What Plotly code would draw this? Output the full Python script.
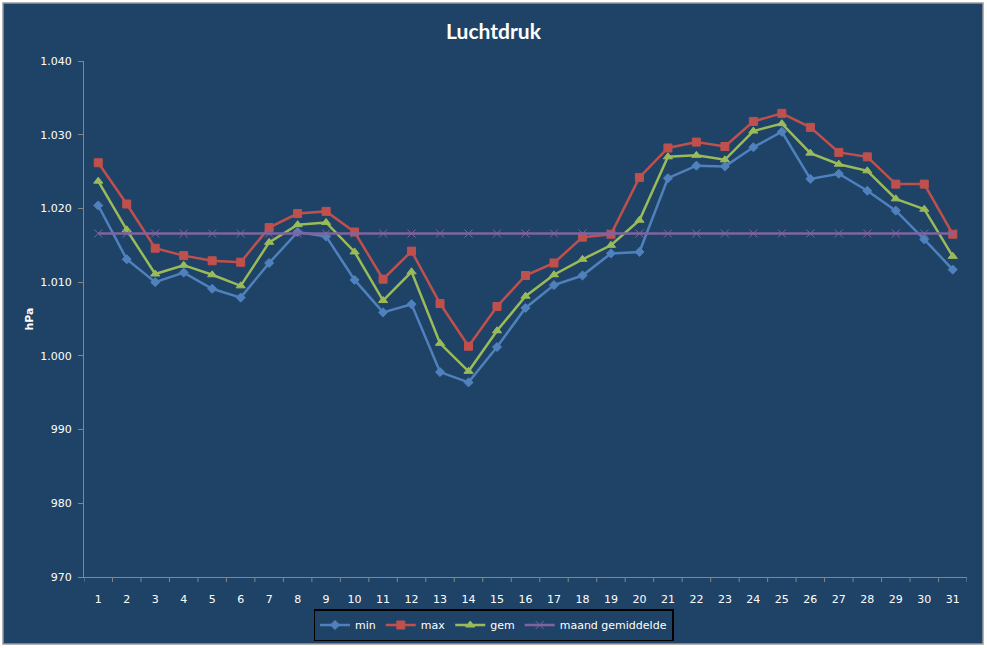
import plotly.graph_objects as go

days = list(range(1, 32))
day_labels = [str(d) for d in days]

min_vals = [1020.4, 1013.1, 1010.0, 1011.3, 1009.1, 1007.9, 1012.6, 1016.8, 1016.2, 1010.3,
            1005.9, 1007.0, 997.8, 996.4, 1001.2, 1006.5, 1009.6, 1010.9, 1013.9, 1014.1,
            1024.1, 1025.8, 1025.7, 1028.3, 1030.4, 1024.0, 1024.7, 1022.4, 1019.7, 1015.8, 1011.7]
max_vals = [1026.2, 1020.6, 1014.6, 1013.6, 1012.9, 1012.7, 1017.4, 1019.3, 1019.6, 1016.8,
            1010.4, 1014.2, 1007.1, 1001.3, 1006.7, 1010.9, 1012.6, 1016.1, 1016.5, 1024.2,
            1028.2, 1029.0, 1028.4, 1031.8, 1032.9, 1031.0, 1027.6, 1027.0, 1023.3, 1023.3, 1016.5]
gem_vals = [1023.7, 1017.1, 1011.1, 1012.3, 1011.0, 1009.5, 1015.4, 1017.8, 1018.1, 1014.1,
            1007.5, 1011.4, 1001.7, 997.9, 1003.4, 1008.1, 1011.0, 1013.1, 1015.0, 1018.4,
            1027.0, 1027.2, 1026.6, 1030.5, 1031.5, 1027.5, 1026.0, 1025.1, 1021.3, 1019.9, 1013.5]
maand_gem = [1016.6] * 31

y_tickvals = [970, 980, 990, 1000, 1010, 1020, 1030, 1040]
y_ticktext = ["970", "980", "990", "1.000", "1.010", "1.020", "1.030", "1.040"]

BG = "#1F4366"
AXIS = "#868686"
TXT = "#FFFFFF"

fig = go.Figure()
series = [
    ("min", min_vals, "#4F81BD", "diamond", 7),
    ("max", max_vals, "#C0504D", "square", 8),
    ("gem", gem_vals, "#9BBB59", "triangle-up", 8),
    ("maand gemiddelde", maand_gem, "#8064A2", "x-thin", 8),
]
for name, vals, col, sym, sz in series:
    fig.add_trace(go.Scatter(
        x=days, y=vals, name=name, mode="lines+markers",
        line=dict(color=col, width=2.5),
        marker=dict(symbol=sym, size=sz, color=col, line=dict(color=col, width=1)),
    ))

W, H = 987, 648
L, R, T, B = 84, 20, 61, 71
pw, ph = W - L - R, H - T - B

fig.update_layout(
    width=W, height=H,
    margin=dict(l=L, r=R, t=T, b=B, autoexpand=False),
    paper_bgcolor="white",
    plot_bgcolor=BG,
    font=dict(family="DejaVu Sans", size=11, color=TXT),
    title=dict(text="<b>Luchtdruk</b>", x=0.5, xref="container", xanchor="center",
               y=1 - 32 / H, yanchor="middle",
               font=dict(family="Lato", size=21, color=TXT)),
    showlegend=True,
    legend=dict(orientation="h", x=0.5, xanchor="center", xref="container",
                y=1 - 609 / H, yanchor="top", yref="container",
                bordercolor="black", borderwidth=1.5, bgcolor=BG,
                font=dict(family="DejaVu Sans", size=11, color=TXT),
                itemwidth=30, tracegroupgap=0),
    xaxis=dict(range=[0.5, 31.5], tickvals=days, ticktext=day_labels,
               showgrid=False, zeroline=False, showline=True, linecolor=AXIS, linewidth=1,
               ticks="", ticklabelstandoff=12, tickfont=dict(size=11, color=TXT), fixedrange=True),
    yaxis=dict(range=[970, 1040], tickvals=y_tickvals, ticktext=y_ticktext,
               showgrid=False, zeroline=False, showline=True, linecolor=AXIS, linewidth=1,
               ticks="outside", ticklen=5, tickcolor=AXIS, ticklabelstandoff=4,
               tickfont=dict(size=11, color=TXT),
               title=dict(text="<b>hPa</b>", standoff=4, font=dict(size=11, color=TXT))),
)

# x-axis tick marks between categories
xa_edges = [d + 0.5 for d in range(0, 31)] + [31.5]
for e in xa_edges:
    fig.add_shape(type="line", xref="x", yref="paper", x0=e, x1=e, y0=0, y1=-5 / ph,
                  line=dict(color=AXIS, width=1), layer="above")

# dark chart area background with grey border (outside plot area)
fig.add_shape(type="rect", xref="paper", yref="paper",
              x0=(3 - L) / pw, x1=(983 - L) / pw,
              y0=-(644 - T - ph) / ph, y1=1 + (T - 3) / ph,
              fillcolor=BG, line=dict(color="#9A9A9A", width=1.5), layer="below")

fig.write_html("out.html")
